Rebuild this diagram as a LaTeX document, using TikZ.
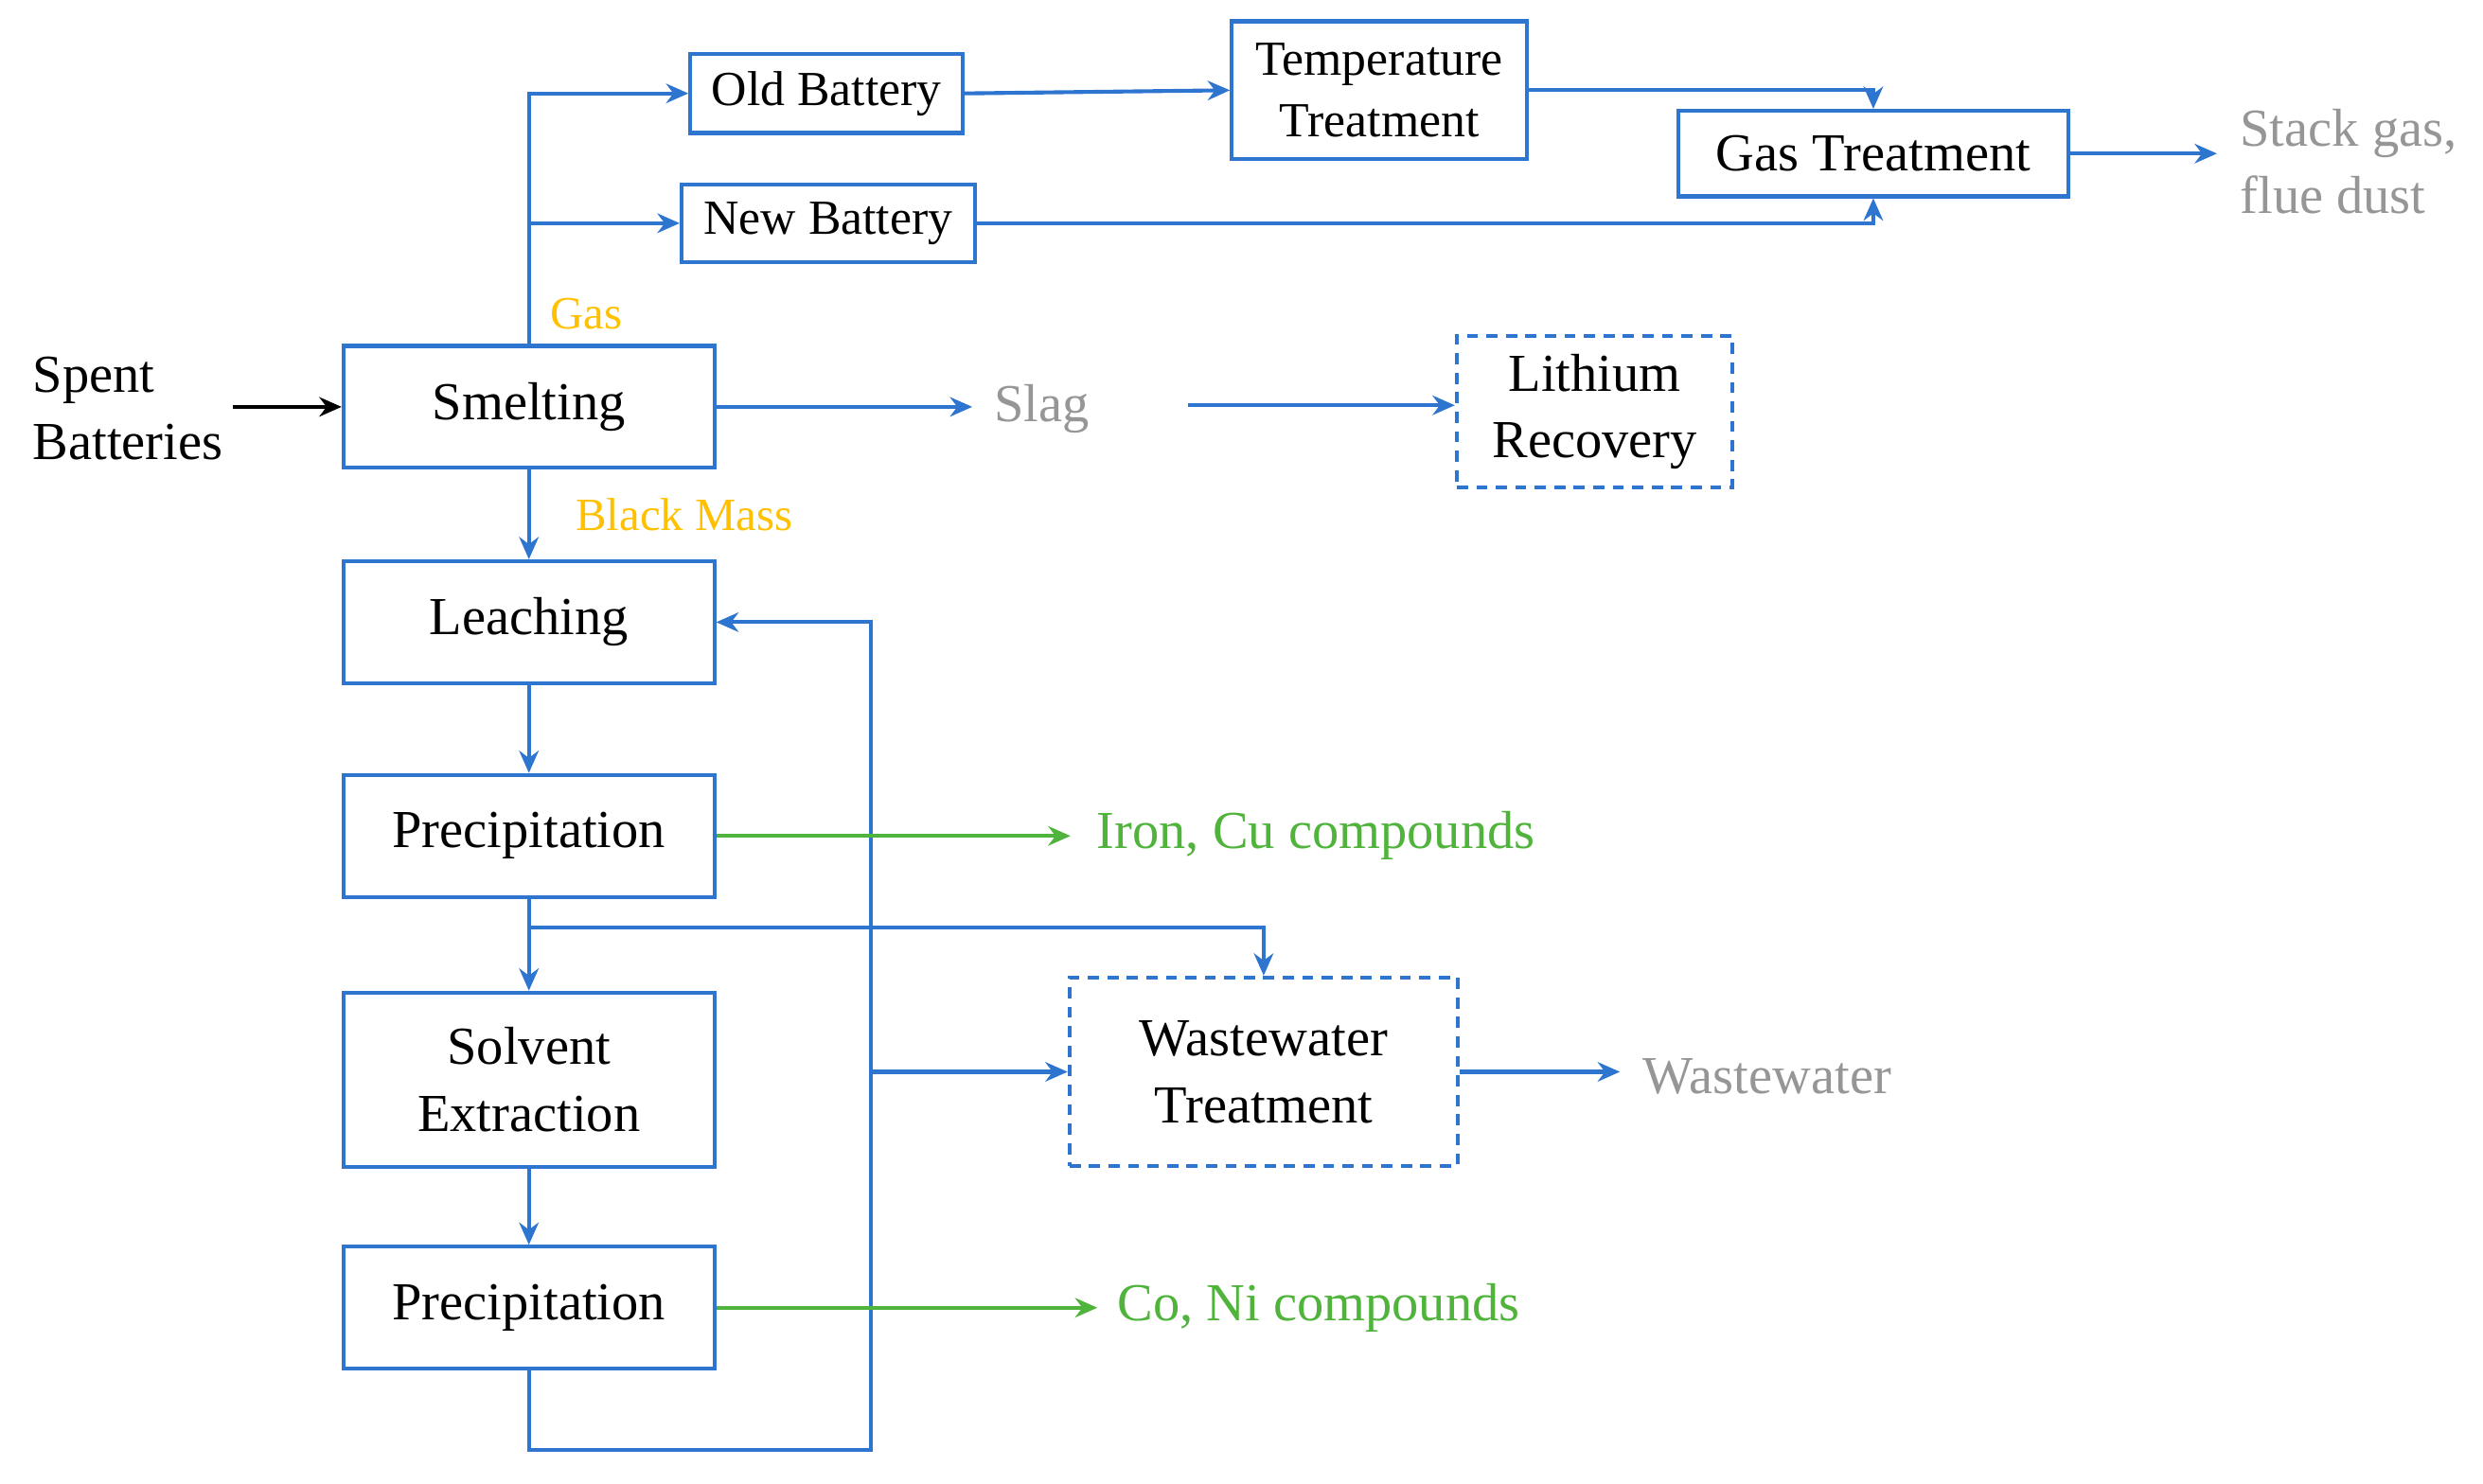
\documentclass[tikz,border=0pt]{standalone}
\usepackage{fontspec}
\setmainfont{Liberation Serif}
\usetikzlibrary{arrows.meta}
\definecolor{flowblue}{RGB}{46,117,208}
\definecolor{outgreen}{RGB}{80,180,60}
\definecolor{gasyellow}{RGB}{255,192,0}
\definecolor{outgray}{RGB}{150,150,150}
\tikzset{
  box/.style={draw=flowblue, line width=0.7pt, align=center, inner sep=1pt,
    font=\fontsize{9.6}{12}\selectfont},
  stage/.style={box, minimum width=2.34cm, minimum height=0.77cm},
  dashbox/.style={box, dash pattern=on 2pt off 1.5pt},
  flow/.style={draw=flowblue, line width=0.7pt, -{Stealth[length=4pt,width=3.5pt]}},
  line/.style={draw=flowblue, line width=0.7pt},
  txt/.style={align=left, font=\fontsize{9.6}{12}\selectfont, inner sep=0pt}
}
\begin{document}
\begin{tikzpicture}[x=0.01cm,y=-0.01cm]
    \useasboundingbox (0,0) rectangle (1568,937);
    % main column
    \node[stage] (smelt) at (334,257) {Smelting};
    \node[stage] (leach) at (334,393) {Leaching};
    \node[stage] (prec1) at (334,528) {Precipitation};
    \node[stage, minimum height=1.10cm] (solv) at (334,682) {Solvent\\Extraction};
    \node[stage] (prec2) at (334,826) {Precipitation};
    % gas branch
    \node[box, minimum width=1.72cm, minimum height=0.50cm, font=\fontsize{8.8}{11}\selectfont] (old) at (522,59) {Old Battery};
    \node[box, minimum width=1.85cm, minimum height=0.49cm, font=\fontsize{8.8}{11}\selectfont] (new) at (523,141) {New Battery};
    \node[box, minimum width=1.86cm, minimum height=0.87cm, font=\fontsize{8.8}{11}\selectfont] (temp) at (871,57) {Temperature\\Treatment};
    \node[box, minimum width=2.46cm, minimum height=0.54cm] (gast) at (1183,97) {Gas Treatment};
    % dashed units
    \node[dashbox, minimum width=1.74cm, minimum height=0.96cm] (li) at (1007,260) {Lithium\\Recovery};
    \node[dashbox, minimum width=2.45cm, minimum height=1.19cm] (wwt) at (798,677) {Wastewater\\Treatment};
    % texts
    \node[txt, anchor=west] (spent) at (20,258) {Spent\\Batteries};
    \node[txt, anchor=west, text=outgray] (stack) at (1414,102) {Stack gas,\\flue dust};
    \node[txt, anchor=west, text=outgray] (slag) at (627,258) {Slag};
    \node[txt, anchor=west, text=outgray] (ww) at (1037,680) {Wastewater};
    \node[txt, anchor=west, text=outgreen] (fecu) at (692,528) {Iron, Cu compounds};
    \node[txt, anchor=west, text=outgreen] (coni) at (705,826) {Co, Ni compounds};
    \node[txt, anchor=west, text=gasyellow, font=\fontsize{8.3}{10}\selectfont] (gas) at (347,198) {Gas};
    \node[txt, anchor=west, text=gasyellow, font=\fontsize{8.3}{10}\selectfont] (bm) at (363,325) {Black Mass};
    \coordinate (spentend) at (147,257);
    \coordinate (slagend) at (614,257);
    \coordinate (slagstart) at (750,256);
    \coordinate (stackend) at (1400,97);
    \coordinate (fecuend) at (676,528);
    \coordinate (coniend) at (693,826);
    \coordinate (wwend) at (1023,677);
    % connectors
    \draw[line width=0.7pt, -{Stealth[length=4pt,width=3.5pt]}] (spentend) -- (smelt.west);
    \draw[flow] (smelt.north) |- (old.west);
    \draw[flow] (334,141) -- (new.west);
    \draw[flow] (old.east) -- (temp.west);
    \draw[flow] (temp.east) -| (gast.north);
    \draw[flow] (new.east) -| (gast.south);
    \draw[flow] (gast.east) -- (stackend);
    \draw[flow] (smelt.east) -- (slagend);
    \draw[flow] (slagstart) -- (slagstart -| li.west);
    \draw[flow] (smelt.south) -- (leach.north);
    \draw[flow] (leach.south) -- (prec1.north);
    \draw[flow] (prec1.south) -- (solv.north);
    \draw[flow] (334,586) -| (wwt.north);
    \draw[flow] (solv.south) -- (prec2.north);
    \draw[flow] (prec2.south) -- (334,916) -- (550,916) |- (leach.east);
    \draw[flow] (550,677) -- (wwt.west);
    \draw[flow] (wwt.east) -- (wwend);
    \draw[draw=outgreen, line width=0.7pt, -{Stealth[length=4pt,width=3.5pt]}] (prec1.east) -- (fecuend);
    \draw[draw=outgreen, line width=0.7pt, -{Stealth[length=4pt,width=3.5pt]}] (prec2.east) -- (coniend);
\end{tikzpicture}
\end{document}
